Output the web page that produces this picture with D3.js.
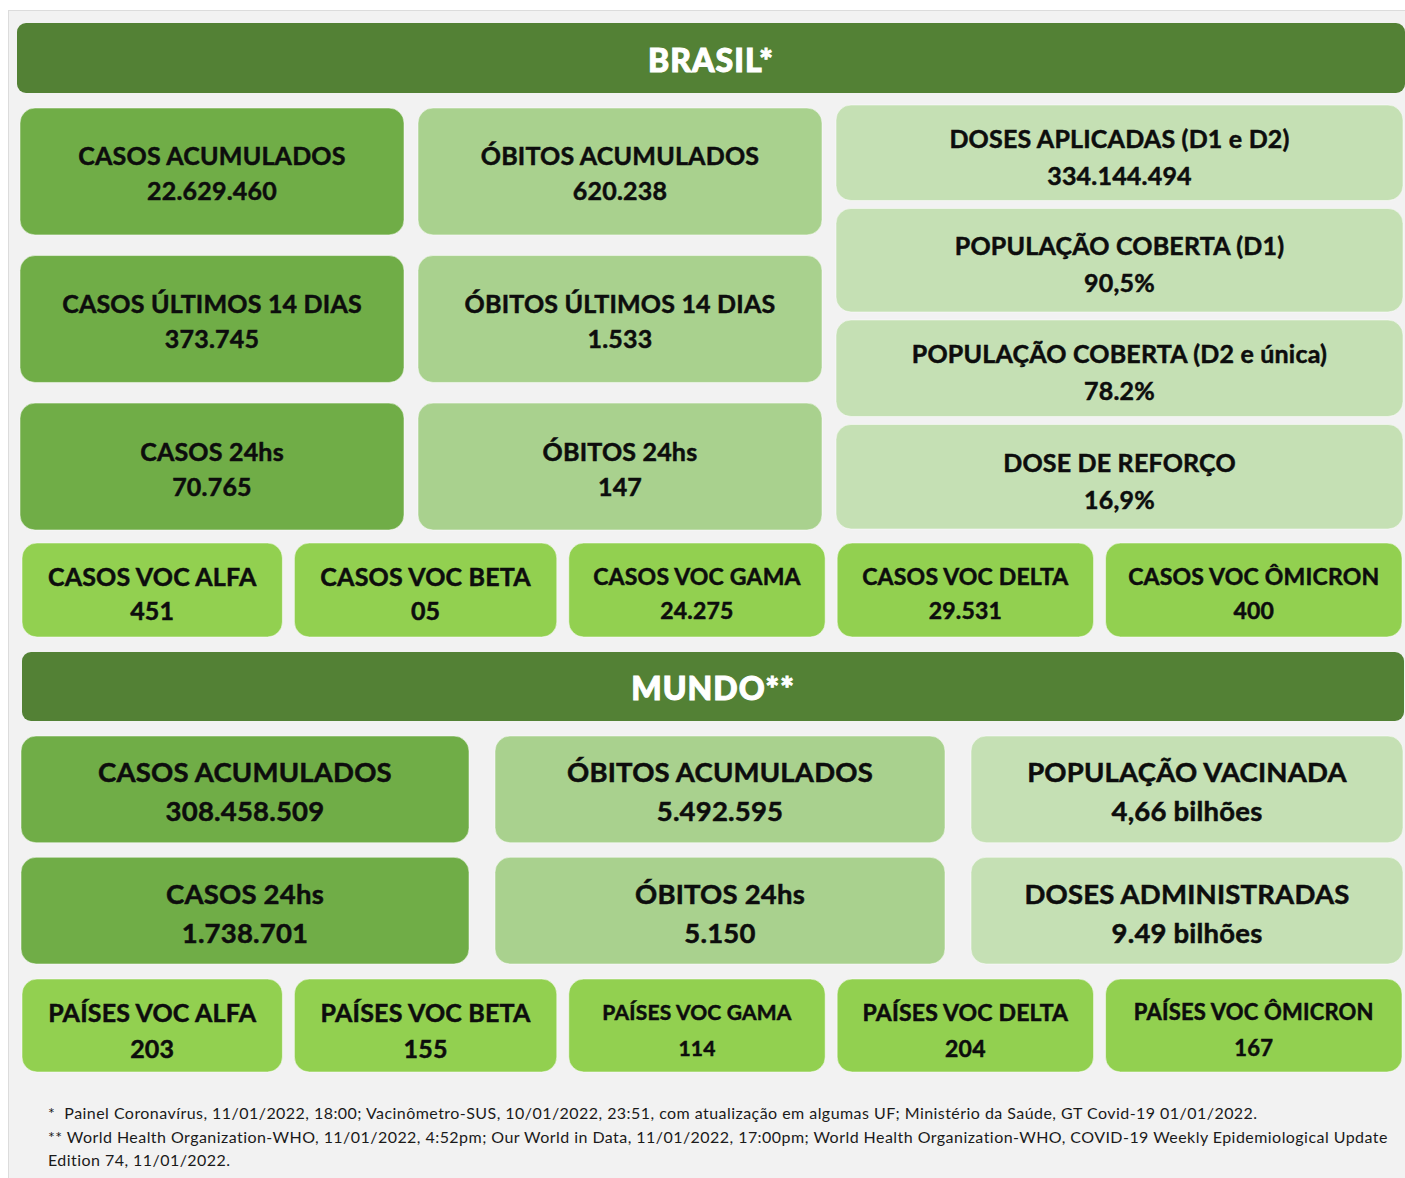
<!DOCTYPE html>
<html>
<head>
<meta charset="utf-8">
<script src="https://cdn.jsdelivr.net/npm/d3@7"></script>
<style>
  body { margin: 0; background: #fff; }
  text { font-family: Lato, "Open Sans", sans-serif; }
</style>
</head>
<body>
<div id="chart"></div>
<script>
// ---- data ----
const brTitle = "BRASIL*";
const brMainLabels = ["CASOS ACUMULADOS", "ÓBITOS ACUMULADOS", "CASOS ÚLTIMOS 14 DIAS", "ÓBITOS ÚLTIMOS 14 DIAS", "CASOS 24hs", "ÓBITOS 24hs"];
const brMainValues = ["22.629.460", "620.238", "373.745", "1.533", "70.765", "147"];
const brVacLabels = ["DOSES APLICADAS (D1 e D2)", "POPULAÇÃO COBERTA (D1)", "POPULAÇÃO COBERTA (D2 e única)", "DOSE DE REFORÇO"];
const brVacValues = ["334.144.494", "90,5%", "78.2%", "16,9%"];
const brVocLabels = ["CASOS VOC ALFA", "CASOS VOC BETA", "CASOS VOC GAMA", "CASOS VOC DELTA", "CASOS VOC ÔMICRON"];
const brVocValues = ["451", "05", "24.275", "29.531", "400"];

const mundoTitle = "MUNDO**";
const mundoMainLabels = ["CASOS ACUMULADOS", "ÓBITOS ACUMULADOS", "POPULAÇÃO VACINADA", "CASOS 24hs", "ÓBITOS 24hs", "DOSES ADMINISTRADAS"];
const mundoMainValues = ["308.458.509", "5.492.595", "4,66 bilhões", "1.738.701", "5.150", "9.49 bilhões"];
const mundoVocLabels = ["PAÍSES VOC ALFA", "PAÍSES VOC BETA", "PAÍSES VOC GAMA", "PAÍSES VOC DELTA", "PAÍSES VOC ÔMICRON"];
const mundoVocValues = ["203", "155", "114", "204", "167"];

const footnotes = [
  "*  Painel Coronavírus, 11/01/2022, 18:00; Vacinômetro-SUS, 10/01/2022, 23:51, com atualização em algumas UF; Ministério da Saúde, GT Covid-19 01/01/2022.",
  "** World Health Organization-WHO, 11/01/2022, 4:52pm; Our World in Data, 11/01/2022, 17:00pm; World Health Organization-WHO, COVID-19 Weekly Epidemiological Update",
  "Edition 74, 11/01/2022."
];

// ---- layout & style ----
const W = 1405, H = 1178;
const colors = { header: "#538135", dark: "#70ad47", mid: "#a9d18e", light: "#c5e0b4", voc: "#92d050" };
const ink = "#0d0d0d";

const svg = d3.select("#chart").append("svg")
  .attr("width", W)
  .attr("height", H);

// panel background
svg.append("rect")
  .attr("x", 8.5).attr("y", 10.5)
  .attr("width", W).attr("height", H)
  .attr("fill", "#f2f2f2")
  .attr("stroke", "#dcdcdc");

// split a pixel range into tracks of relative weights separated by a gap
function tracks(range, weights, gap) {
  const total = d3.sum(weights);
  const avail = range[1] - range[0] - gap * (weights.length - 1);
  const x = d3.scaleLinear().domain([0, total]).range([0, avail]);
  const starts = d3.cumsum([0].concat(weights.slice(0, -1)));
  return weights.map((w, i) => ({ x0: range[0] + x(starts[i]) + gap * i, w: x(w) }));
}

function header(title, xr, yr) {
  const g = svg.append("g");
  g.append("rect")
    .attr("x", xr[0]).attr("y", yr[0])
    .attr("width", xr[1] - xr[0]).attr("height", yr[1] - yr[0])
    .attr("rx", 9)
    .attr("fill", colors.header);
  g.append("text")
    .attr("x", (xr[0] + xr[1]) / 2)
    .attr("y", (yr[0] + yr[1]) / 2 + 0.36 * 32 + 2)
    .attr("text-anchor", "middle")
    .attr("fill", "#fff")
    .attr("stroke", "#fff")
    .attr("stroke-width", 1)
    .style("font-size", "32px")
    .style("font-weight", 900)
    .style("letter-spacing", "1px")
    .text(title);
}

// boxes: array of {x, y, w, h, fill, label, value, fsL, fsV}
function drawBoxes(boxes, offL, offV) {
  const g = svg.append("g").selectAll("g")
    .data(boxes)
    .enter()
    .append("g");
  g.append("rect")
    .attr("x", d => d.x).attr("y", d => d.y)
    .attr("width", d => d.w).attr("height", d => d.h)
    .attr("rx", 15)
    .attr("fill", d => d.fill)
    .attr("stroke", "rgba(255,255,255,0.5)");
  g.append("text")
    .attr("x", d => d.x + d.w / 2)
    .attr("y", d => d.y + d.h / 2 + offL + 0.36 * d.fsL)
    .attr("text-anchor", "middle")
    .style("font-size", d => d.fsL + "px")
    .style("font-weight", 700)
    .style("letter-spacing", "0.2px")
    .attr("fill", ink)
    .attr("stroke", ink)
    .attr("stroke-width", 0.5)
    .text(d => d.label);
  g.append("text")
    .attr("x", d => d.x + d.w / 2)
    .attr("y", d => d.y + d.h / 2 + offV + 0.36 * d.fsV)
    .attr("text-anchor", "middle")
    .style("font-size", d => d.fsV + "px")
    .style("font-weight", 700)
    .style("letter-spacing", "0.2px")
    .attr("fill", ink)
    .attr("stroke", ink)
    .attr("stroke-width", 0.5)
    .text(d => d.value);
}

// ---- BRASIL ----
header(brTitle, [17, 1405], [23, 93]);

const brCols = tracks([20, 822], [384, 404], 14);
const brRows = d3.scaleBand().domain(d3.range(3)).range([108, 530]).paddingInner(0.14);
drawBoxes(brMainLabels.map((l, i) => {
  const c = brCols[i % 2];
  return {
    x: c.x0, y: brRows(Math.floor(i / 2)), w: c.w, h: brRows.bandwidth(),
    fill: i % 2 === 0 ? colors.dark : colors.mid,
    label: l, value: brMainValues[i], fsL: 25, fsV: 25
  };
}), -15, 20);

const vacRows = tracks([105, 529], [95, 103, 96, 104], 8);
drawBoxes(brVacLabels.map((l, i) => ({
  x: 836, y: vacRows[i].x0, w: 567, h: vacRows[i].w,
  fill: colors.light, label: l, value: brVacValues[i], fsL: 25, fsV: 25
})), -14, 23);

const vocCols = tracks([22, 1402], [260, 262, 256, 256, 296], 12);
const brVocFsL = [25, 25, 23, 23, 23];
const brVocFsV = [25, 25, 23, 23, 23];
drawBoxes(brVocLabels.map((l, i) => ({
  x: vocCols[i].x0, y: 543, w: vocCols[i].w, h: 94,
  fill: colors.voc, label: l, value: brVocValues[i], fsL: brVocFsL[i], fsV: brVocFsV[i]
})), -13, 21);

// ---- MUNDO ----
header(mundoTitle, [22, 1404], [652, 721]);

const mCols = tracks([21, 1403], [448, 450, 432], 26);
const mRows = d3.scaleBand().domain(d3.range(2)).range([736, 964]).paddingInner(0.12);
const mFills = [colors.dark, colors.mid, colors.light];
drawBoxes(mundoMainLabels.map((l, i) => {
  const c = mCols[i % 3];
  return {
    x: c.x0, y: mRows(Math.floor(i / 3)), w: c.w, h: mRows.bandwidth(),
    fill: mFills[i % 3], label: l, value: mundoMainValues[i], fsL: 27.5, fsV: 27.5
  };
}), -17, 22);

const mVocFsL = [25, 25, 21, 23, 22];
const mVocFsV = [25, 25, 21, 23, 22];
drawBoxes(mundoVocLabels.map((l, i) => ({
  x: vocCols[i].x0, y: 979, w: vocCols[i].w, h: 93,
  fill: colors.voc, label: l, value: mundoVocValues[i], fsL: mVocFsL[i], fsV: mVocFsV[i]
})), -13, 23);

// ---- footnotes ----
svg.append("g").selectAll("text")
  .data(footnotes)
  .enter()
  .append("text")
  .attr("x", 48)
  .attr("y", (d, i) => 1119 + i * 23.5)
  .style("font-size", "16px")
  .style("letter-spacing", "0.45px")
  .style("white-space", "pre")
  .attr("fill", "#1a1a1a")
  .text(d => d);
</script>
</body>
</html>
